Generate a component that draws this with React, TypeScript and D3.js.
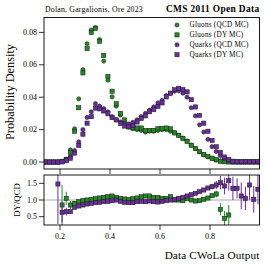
import React from 'react';
import * as d3 from 'd3';

const binCenters = [0.1417,0.1583,0.1750,0.1917,0.2083,0.2250,0.2417,0.2583,0.2750,0.2917,0.3083,0.3250,0.3417,0.3583,0.3750,0.3917,0.4083,0.4250,0.4417,0.4583,0.4750,0.4917,0.5083,0.5250,0.5417,0.5583,0.5750,0.5917,0.6083,0.6250,0.6417,0.6583,0.6750,0.6917,0.7083,0.7250,0.7417,0.7583,0.7750,0.7917,0.8083,0.8250,0.8417,0.8583,0.8750,0.8917,0.9083,0.9250,0.9417,0.9583,0.9750,0.9917];

const gluonQCD = [0,0,0,0,0.0005,0.0018,0.0075,0.0205,0.039,0.057,0.073,0.0815,0.083,0.0755,0.0623,0.0505,0.0402,0.0345,0.029,0.025,0.0215,0.0205,0.020,0.0195,0.0185,0.019,0.019,0.0195,0.020,0.020,0.019,0.018,0.0165,0.0148,0.013,0.0105,0.0083,0.0063,0.0045,0.0032,0.0021,0.0012,0.0007,0.0003,0.0001,0,0,0,0,0,0,0];
const gluonDY = [0,0,0,0,0.0004,0.0015,0.006,0.019,0.0335,0.055,0.070,0.080,0.0825,0.0745,0.0658,0.0528,0.0437,0.036,0.030,0.026,0.022,0.0212,0.021,0.021,0.0195,0.0195,0.0195,0.0205,0.0207,0.021,0.0205,0.018,0.0165,0.0145,0.0127,0.0103,0.0083,0.0064,0.0047,0.0035,0.0024,0.0014,0.0005,0.00015,0.00005,0,0,0,0,0,0,0];
const quarkQCD = [0,0,0,0,0.0002,0.0012,0.0035,0.007,0.0125,0.020,0.0275,0.031,0.036,0.0345,0.033,0.031,0.028,0.026,0.0248,0.0238,0.0235,0.0245,0.026,0.028,0.030,0.032,0.034,0.0365,0.038,0.041,0.0425,0.0437,0.044,0.0425,0.040,0.0335,0.0285,0.023,0.0185,0.014,0.0095,0.0065,0.004,0.0022,0.001,0.0004,0.0001,0.0001,0.0001,0.0001,0.0001,0.0001];
const quarkDY = [0,0,0,0,0.0001,0.0008,0.0023,0.0055,0.0103,0.0172,0.024,0.028,0.0333,0.0328,0.0315,0.0298,0.0274,0.026,0.0238,0.0222,0.0217,0.0225,0.0247,0.0269,0.0285,0.031,0.0323,0.0343,0.0365,0.0402,0.0425,0.0446,0.0455,0.0447,0.0433,0.0385,0.034,0.0288,0.024,0.019,0.0133,0.0094,0.006,0.0031,0.0016,0.0005,0.0002,0.0002,0.0002,0.0002,0.0002,0.0002];

const gluonRatio = [null,null,null,null,0.85,1.05,0.85,0.9,0.95,0.98,1.0,1.02,1.04,1.06,1.08,1.1,1.12,1.08,1.05,1.03,1.02,1.04,1.06,1.1,1.12,1.12,1.08,1.08,1.05,1.05,1.1,1.0,1.0,0.98,1.04,1.0,0.97,0.98,1.02,1.06,1.13,1.18,0.72,0.45,0.55,null,null,null,null,null,null,null];
const gluonRatioErr = [0,0,0,0,0.6,0.2,0.12,0.07,0.05,0.03,0.03,0.03,0.03,0.03,0.03,0.03,0.03,0.03,0.03,0.03,0.03,0.03,0.03,0.03,0.03,0.03,0.03,0.03,0.03,0.03,0.03,0.03,0.03,0.03,0.03,0.03,0.03,0.03,0.04,0.05,0.07,0.1,0.18,0.22,0.3,0,0,0,0,0,0,0];
const quarkRatio = [null,null,null,1.48,0.63,0.65,0.65,0.78,0.82,0.85,0.88,0.9,0.92,0.93,0.95,0.96,0.98,1.0,0.96,0.93,0.92,0.92,0.95,0.96,0.95,0.97,0.95,0.94,0.96,0.98,1.0,1.02,1.05,1.08,1.12,1.16,1.2,1.25,1.3,1.36,1.4,1.45,1.52,1.42,1.58,1.35,1.35,1.12,1.05,1.45,1.02,1.32];
const quarkRatioErr = [0,0,0,1.2,0.3,0.12,0.07,0.05,0.03,0.03,0.03,0.03,0.03,0.03,0.03,0.03,0.03,0.03,0.03,0.03,0.03,0.03,0.03,0.03,0.03,0.03,0.03,0.03,0.03,0.03,0.03,0.03,0.03,0.03,0.03,0.03,0.03,0.03,0.04,0.06,0.08,0.12,0.2,0.25,0.3,0.35,0.3,0.4,0.35,0.45,0.4,0.45];

const mainYTicks = [0, 0.02, 0.04, 0.06, 0.08];
const ratioYTicks = [0.5, 1.0, 1.5];
const xTicks = [0.2, 0.4, 0.6, 0.8];
const legendLabels = ['Gluons (QCD MC)', 'Gluons (DY MC)', 'Quarks (QCD MC)', 'Quarks (DY MC)'];

const GREEN = '#238a23';
const PURPLE = '#6a2d9c';
const EDGE = '#1e1e1e';
const FONT = '"Liberation Serif", "DejaVu Serif", serif';

const L = 44, R = 259.5, T = 17.5, MB = 169, RT = 175, RB = 225;

function Marker({ cx, cy, shape, color }: { cx: number; cy: number; shape: string; color: string }) {
  if (shape === 'circle') return <circle cx={cx} cy={cy} r={2.1} fill={color} stroke={EDGE} strokeWidth={0.55} />;
  return <rect x={cx - 2.1} y={cy - 2.1} width={4.2} height={4.2} fill={color} stroke={EDGE} strokeWidth={0.55} />;
}

export default function App() {
  const x = d3.scaleLinear().domain([0.136, 0.998]).range([L, R]);
  const y = d3.scaleLinear().domain([-0.0043, 0.0892]).range([MB, T]);
  const yr = d3.scaleLinear().domain([0.25, 1.75]).range([RB, RT]);
  const fmt2 = d3.format('.2f');
  const fmt1 = d3.format('.1f');

  const mainSeries = [
    { data: gluonQCD, shape: 'circle', color: GREEN },
    { data: gluonDY, shape: 'square', color: GREEN },
    { data: quarkQCD, shape: 'circle', color: PURPLE },
    { data: quarkDY, shape: 'square', color: PURPLE },
  ];
  const ratioSeries = [
    { data: gluonRatio, err: gluonRatioErr, color: GREEN },
    { data: quarkRatio, err: quarkRatioErr, color: PURPLE },
  ];

  return (
    <svg width={266} height={267} style={{ position: 'absolute', left: 0, top: 0, background: '#fff' }} fontFamily={FONT}>
      <defs>
        <clipPath id="rclip"><rect x={L} y={RT} width={R - L} height={RB - RT} /></clipPath>
        <clipPath id="mclip"><rect x={L} y={T} width={R - L} height={MB - T} /></clipPath>
      </defs>
      <rect width={266} height={267} fill="#fff" />
      {/* titles */}
      <text x={L + 1} y={12} fontSize={7.8} letterSpacing={0.2}>Dolan, Gargalionis, Ore 2023</text>
      <text x={R} y={12} fontSize={9.4} fontWeight="bold" letterSpacing={0.35} textAnchor="end">CMS 2011 Open Data</text>

      {/* main panel */}
      <g clipPath="url(#mclip)">
        {mainSeries.map((s, si) => (
          <g key={si}>
            {s.data.map((v, i) => (
              <Marker key={i} cx={x(binCenters[i])} cy={y(v)} shape={s.shape} color={s.color} />
            ))}
          </g>
        ))}
      </g>
      <rect x={L} y={T} width={R - L} height={MB - T} fill="none" stroke="#000" strokeWidth={0.9} />
      {mainYTicks.map((t) => (
        <g key={t}>
          <line x1={L - 5} x2={L} y1={y(t)} y2={y(t)} stroke="#000" strokeWidth={0.8} />
          <text x={L - 7} y={y(t)} fontSize={8} textAnchor="end" dominantBaseline="central">{fmt2(t)}</text>
        </g>
      ))}
      {xTicks.map((t) => (
        <line key={t} x1={x(t)} x2={x(t)} y1={MB} y2={MB + 5} stroke="#000" strokeWidth={0.8} />
      ))}
      <text transform={`translate(14,92) rotate(-90)`} fontSize={12.3} textAnchor="middle">Probability Density</text>

      {/* legend */}
      {legendLabels.map((lab, i) => (
        <g key={lab}>
          <Marker cx={177} cy={25 + i * 9.9} shape={i % 2 === 0 ? 'circle' : 'square'} color={i < 2 ? GREEN : PURPLE} />
          <text x={189.5} y={25 + i * 9.9} fontSize={7.2} letterSpacing={0.25} dominantBaseline="central">{lab}</text>
        </g>
      ))}

      {/* ratio panel */}
      <line x1={L} x2={R} y1={yr(1)} y2={yr(1)} stroke="#aaaaaa" strokeWidth={1.2} />
      <g clipPath="url(#rclip)">
        {ratioSeries.map((s, si) => (
          <g key={si}>
            {s.data.map((v, i) =>
              v == null ? null : (
                <line key={'e' + i} x1={x(binCenters[i])} x2={x(binCenters[i])} y1={yr(v - s.err[i])} y2={yr(v + s.err[i])} stroke={s.color} strokeWidth={1} />
              )
            )}
            {s.data.map((v, i) =>
              v == null ? null : <Marker key={i} cx={x(binCenters[i])} cy={yr(v)} shape="square" color={s.color} />
            )}
          </g>
        ))}
      </g>
      <rect x={L} y={RT} width={R - L} height={RB - RT} fill="none" stroke="#000" strokeWidth={0.9} />
      {ratioYTicks.map((t) => (
        <g key={t}>
          <line x1={L - 5} x2={L} y1={yr(t)} y2={yr(t)} stroke="#000" strokeWidth={0.8} />
          <text x={L - 7} y={yr(t)} fontSize={8} textAnchor="end" dominantBaseline="central">{fmt1(t)}</text>
        </g>
      ))}
      {xTicks.map((t) => (
        <g key={t}>
          <line x1={x(t)} x2={x(t)} y1={RB} y2={RB + 5} stroke="#000" strokeWidth={0.8} />
          <text x={x(t)} y={236} fontSize={8} textAnchor="middle" dominantBaseline="central">{fmt1(t)}</text>
        </g>
      ))}
      <text transform={`translate(17,200) rotate(-90)`} fontSize={8.8} textAnchor="middle" dominantBaseline="central">DY/QCD</text>
      <text x={R} y={258.5} fontSize={11.2} letterSpacing={0.15} textAnchor="end">Data CWoLa Output</text>
    </svg>
  );
}
